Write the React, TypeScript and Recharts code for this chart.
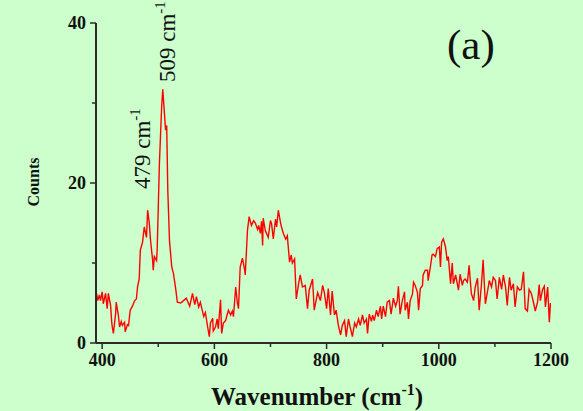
import { Line, LineChart, XAxis, YAxis } from "recharts";

const wavenumbers = [
  390, 392, 395, 397, 400, 402, 406, 409, 411, 415, 417, 418, 420, 424, 425, 429, 431, 434, 436, 440,
  441, 445, 447, 450, 454, 458, 461, 463, 466, 468, 472, 475, 479, 481, 484, 486, 490, 491, 493, 497,
  498, 502, 506, 508, 511, 513, 515, 517, 520, 524, 527, 531, 534, 540, 545, 550, 556, 561, 565, 568,
  572, 575, 581, 584, 588, 591, 593, 597, 598, 602, 605, 607, 611, 613, 616, 620, 623, 625, 629, 632,
  634, 638, 641, 643, 646, 650, 654, 655, 659, 662, 666, 670, 673, 677, 679, 682, 684, 686, 687, 691,
  693, 696, 700, 702, 705, 709, 711, 714, 718, 720, 723, 727, 730, 734, 737, 739, 743, 746, 750, 753,
  757, 762, 766, 769, 775, 778, 784, 789, 793, 796, 800, 803, 807, 810, 814, 817, 821, 825, 828, 832,
  835, 839, 842, 846, 850, 853, 857, 860, 864, 867, 871, 873, 876, 880, 882, 885, 889, 892, 896, 898,
  901, 905, 908, 912, 915, 919, 923, 926, 928, 931, 935, 939, 940, 944, 946, 949, 953, 955, 958, 962,
  964, 967, 971, 972, 976, 980, 981, 985, 988, 990, 994, 997, 1001, 1003, 1005, 1008, 1012, 1015, 1017, 1021,
  1024, 1026, 1030, 1033, 1035, 1038, 1042, 1044, 1047, 1051, 1054, 1058, 1062, 1065, 1069, 1072, 1076, 1079, 1083, 1087,
  1090, 1094, 1097, 1101, 1104, 1108, 1112, 1115, 1119, 1122, 1126, 1129, 1133, 1136, 1140, 1144, 1147, 1151, 1154, 1158,
  1161, 1165, 1169, 1172, 1176, 1179, 1181, 1185, 1188, 1190, 1194, 1197, 1199,
];

const counts = [
  6.2, 5.3, 6.0, 5.3, 6.4, 4.9, 6.2, 4.3, 6.2, 4.7, 2.6, 2.0, 1.2, 3.7, 5.1, 3.4, 2.0, 2.7, 2.2, 2.6,
  1.4, 2.3, 2.2, 4.1, 4.6, 5.3, 5.5, 7.0, 8.0, 11.6, 12.6, 14.5, 13.2, 16.6, 15.0, 13.0, 10.3, 9.1, 10.8, 10.3,
  11.6, 22.4, 29.5, 31.7, 28.7, 26.6, 27.2, 19.0, 12.8, 9.5, 8.7, 6.8, 5.1, 5.0, 5.3, 5.6, 4.6, 6.2, 4.8, 5.8,
  4.5, 5.1, 3.3, 3.8, 2.0, 0.8, 2.5, 3.1, 1.5, 2.0, 3.0, 1.8, 5.4, 1.2, 2.5, 2.8, 3.6, 4.1, 3.5, 4.0,
  3.3, 7.0, 5.0, 4.3, 9.5, 10.6, 9.1, 8.5, 14.1, 15.8, 14.7, 15.3, 15.0, 14.2, 14.7, 13.7, 15.2, 12.2, 15.6, 14.0,
  13.7, 13.2, 15.3, 14.9, 13.0, 15.5, 14.5, 16.6, 15.0, 14.4, 13.7, 13.0, 13.4, 10.1, 11.0, 10.0, 10.5, 5.5, 7.4, 8.5,
  7.0, 7.2, 4.3, 6.6, 8.0, 4.1, 6.3, 5.3, 7.2, 6.3, 4.3, 6.8, 3.5, 6.5, 3.5, 4.1, 2.2, 1.0, 2.2, 2.8,
  0.8, 3.0, 2.0, 0.8, 2.5, 2.0, 3.0, 2.2, 3.5, 2.5, 3.0, 1.2, 3.6, 2.7, 3.5, 2.8, 4.1, 3.3, 4.6, 3.0,
  4.6, 3.3, 5.1, 5.3, 3.6, 5.6, 4.6, 5.3, 7.1, 3.6, 5.3, 6.4, 4.1, 5.1, 3.0, 5.3, 6.1, 7.6, 7.2, 6.3,
  4.1, 6.8, 7.2, 8.5, 9.1, 9.1, 7.8, 9.5, 11.0, 11.1, 10.8, 11.8, 12.0, 9.5, 12.6, 13.0, 12.0, 10.3, 10.8, 7.4,
  10.0, 7.4, 8.5, 7.4, 6.6, 8.6, 7.2, 7.8, 8.0, 7.6, 9.7, 6.2, 5.3, 7.0, 8.1, 4.1, 7.3, 10.4, 4.9, 6.5,
  7.8, 7.0, 8.2, 7.8, 5.5, 8.2, 6.7, 8.5, 7.0, 4.7, 8.2, 6.6, 7.4, 4.5, 7.0, 6.6, 6.7, 8.9, 4.3, 4.0,
  6.7, 6.2, 5.0, 4.0, 5.1, 7.3, 5.3, 6.7, 7.1, 4.5, 7.0, 2.6, 5.0,
];

const xTicks = [400, 500, 600, 700, 800, 900, 1000, 1100, 1200];
const xLabels = [400, 600, 800, 1000, 1200];
const yTicks = [0, 10, 20, 30, 40];
const yLabels = [0, 20, 40];

const data = wavenumbers.map((w, i) => ({ w, counts: counts[i] }));

const AXIS = "#2b2b2b";
const SERIF = "'Liberation Serif', 'DejaVu Serif', serif";

const XTick = (props: any) => {
  const { x, y, payload } = props;
  const major = xLabels.includes(payload.value);
  return (
    <g>
      <line x1={x} x2={x} y1={y} y2={y + (major ? 6 : 4)} stroke={AXIS} strokeWidth={1.5} />
      {major && (
        <text x={x} y={y + 23} textAnchor="middle" fontFamily={SERIF} fontWeight="bold" fontSize={18} fill="#111">
          {payload.value}
        </text>
      )}
    </g>
  );
};

const YTick = (props: any) => {
  const { x, y, payload } = props;
  const major = yLabels.includes(payload.value);
  return (
    <g>
      <line x1={x - (major ? 6 : 4)} x2={x} y1={y} y2={y} stroke={AXIS} strokeWidth={1.5} />
      {major && (
        <text x={x - 10} y={y + 6} textAnchor="end" fontFamily={SERIF} fontWeight="bold" fontSize={18} fill="#111">
          {payload.value}
        </text>
      )}
    </g>
  );
};

export default function App() {
  return (
    <div style={{ position: "absolute", left: 0, top: 0, width: 583, height: 411, background: "#ccffcc" }}>
      <LineChart width={583} height={411} data={data} margin={{ top: 23, right: 32, left: 0, bottom: 0 }}>
        <XAxis
          dataKey="w"
          type="number"
          domain={[389, 1200]}
          ticks={xTicks}
          interval={0}
          allowDataOverflow
          height={68}
          tickSize={0}
          tickMargin={0}
          tickLine={false}
          axisLine={{ stroke: AXIS, strokeWidth: 2 }}
          tick={<XTick />}
        />
        <YAxis
          type="number"
          domain={[0, 40]}
          ticks={yTicks}
          interval={0}
          width={96}
          tickSize={0}
          tickMargin={0}
          tickLine={false}
          axisLine={{ stroke: AXIS, strokeWidth: 2 }}
          tick={<YTick />}
        />
        <Line
          type="linear"
          dataKey="counts"
          stroke="#ff0000"
          strokeWidth={1.4}
          dot={false}
          isAnimationActive={false}
        />
      </LineChart>
      <svg width={583} height={411} style={{ position: "absolute", left: 0, top: 0, pointerEvents: "none" }}>
        <text
          transform="translate(39,182) rotate(-90)"
          textAnchor="middle"
          fontFamily={SERIF}
          fontWeight="bold"
          fontSize={16}
          fill="#111"
        >
          Counts
        </text>
        <text x={211} y={405} fontFamily={SERIF} fontWeight="bold" fontSize={25} fill="#111">
          Wavenumber (cm
          <tspan dy={-10} fontSize={16}>-1</tspan>
          <tspan dy={10}>)</tspan>
        </text>
        <text transform="translate(150,189) rotate(-90)" fontFamily={SERIF} fontSize={23} fill="#111">
          479 cm
          <tspan dy={-10} fontSize={15}>-1</tspan>
        </text>
        <text transform="translate(175,82) rotate(-90)" fontFamily={SERIF} fontSize={23} fill="#111">
          509 cm
          <tspan dy={-10} fontSize={15}>-1</tspan>
        </text>
        <text x={447} y={59} fontFamily={SERIF} fontSize={43} fill="#111">
          (a)
        </text>
      </svg>
    </div>
  );
}
